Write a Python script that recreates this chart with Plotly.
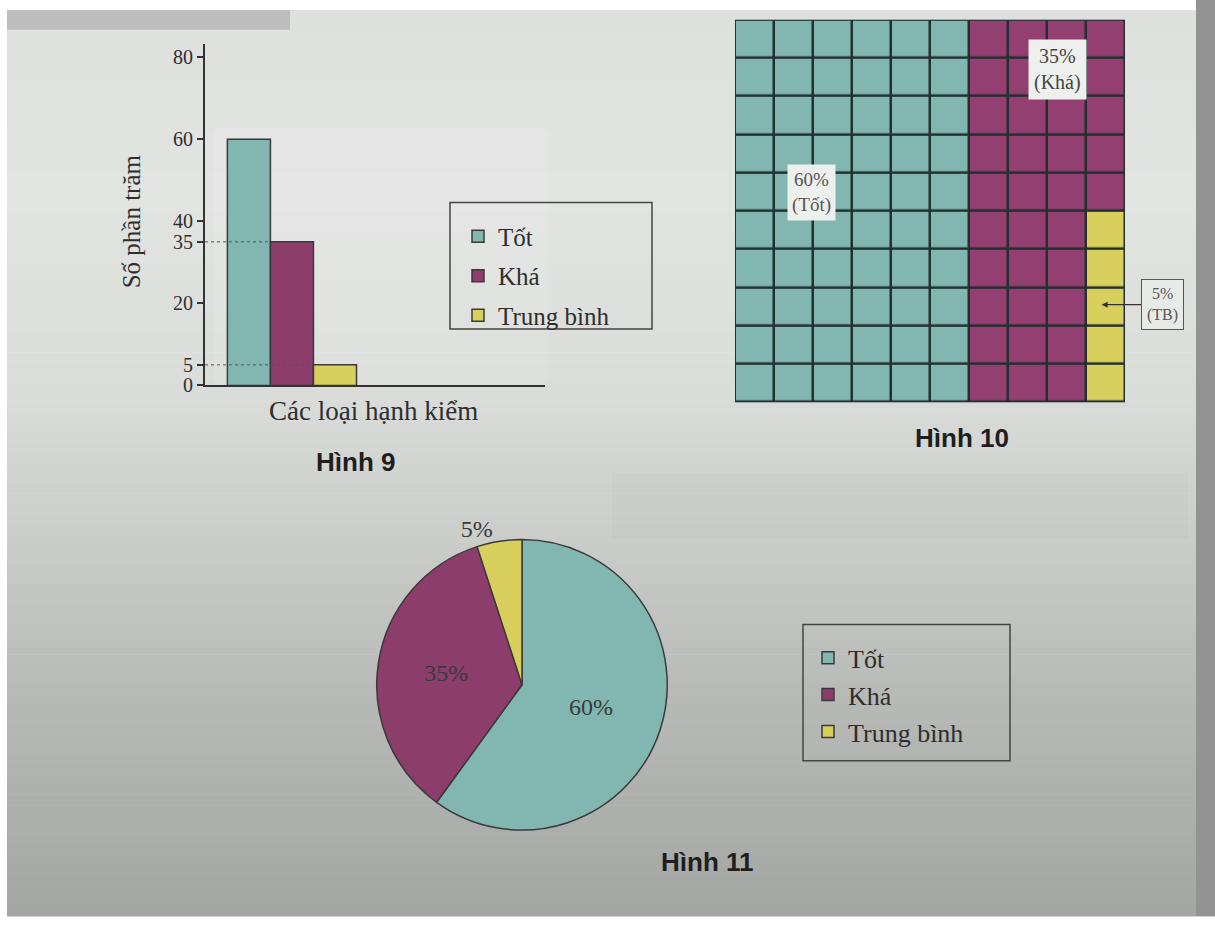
import numpy as np
import plotly.graph_objects as go

# ---------------- data ----------------
categories = ["Tốt", "Khá", "Trung bình"]
short_labels = ["Tốt", "Khá", "TB"]
percentages = [60, 35, 5]
y_ticks = [0, 5, 20, 35, 40, 60, 80]
colors = ["#82b6b0", "#8c3d6c", "#d8cf5c"]

W, H = 1215, 927
def px(x):
    return x / W
def py(y):
    return 1 - y / H

SERIF = "Liberation Serif, Times New Roman, serif"
SANS = "Liberation Sans, Arial, sans-serif"
INK = "#2e2e2e"

fig = go.Figure()

# ---------------- Hình 9: bar chart ----------------
for cat, val, col in zip(categories, percentages, colors):
    fig.add_trace(go.Bar(
        x=[cat], y=[val], name=cat, width=1,
        marker=dict(color=col, line=dict(color="#3a3a3a", width=1.5)),
        xaxis="x", yaxis="y", legend="legend", legendgroup=cat, hoverinfo="skip",
    ))

# ---------------- Hình 10: waffle (10x10) ----------------
n = 10
counts = [round(p) for p in percentages]
flat = np.concatenate([np.full(c, i) for i, c in enumerate(counts)])
grid = flat.reshape(n, n, order="F")  # fill column by column, top to bottom
fig.add_trace(go.Heatmap(
    z=grid, x=list(range(n)), y=list(range(n)),
    colorscale=[[0, colors[0]], [0.5, "#933f72"], [1, colors[2]]],
    zmin=0, zmax=2, showscale=False, xgap=2.5, ygap=2.5,
    xaxis="x2", yaxis="y2", hoverinfo="skip",
))

# ---------------- Hình 11: pie ----------------
fig.add_trace(go.Pie(
    labels=categories, values=percentages, sort=False,
    direction="clockwise", rotation=0,
    marker=dict(colors=colors, line=dict(color="#3a3a3a", width=1.5)),
    texttemplate="%{value}%", textposition=["inside", "inside", "outside"],
    insidetextorientation="horizontal",
    textfont=dict(family=SERIF, size=24, color="#3a3a3a"),
    domain=dict(x=[px(375), px(669)], y=[py(840), py(546)]),
    legend="legend2", hoverinfo="skip",
))

shapes = []
annotations = []

# ---- page tones (photo background) ----
keys_y = [10, 200, 400, 550, 700, 927]
keys_g = [222, 226, 218, 202, 184, 164]
nb = 90
edges = np.linspace(10, 927, nb + 1)
for a, b in zip(edges[:-1], edges[1:]):
    g = int(round(np.interp((a + b) / 2, keys_y, keys_g)))
    shapes.append(dict(type="rect", xref="paper", yref="paper", x0=px(7), x1=1, y0=py(b + 0.6), y1=py(a),
                       fillcolor=f"rgb({g},{g + 2},{g})", line=dict(width=0), layer="below"))
shapes.append(dict(type="rect", xref="paper", yref="paper", x0=px(1196), x1=1, y0=0, y1=1,
                   fillcolor="#939393", line=dict(width=0), layer="below"))
shapes.append(dict(type="rect", xref="paper", yref="paper", x0=px(7), x1=px(290), y0=py(30), y1=py(10),
                   fillcolor="rgba(110,110,110,0.30)", line=dict(width=0), layer="below"))
shapes.append(dict(type="rect", xref="paper", yref="paper", x0=px(612), x1=px(1188), y0=py(545), y1=py(478),
                   fillcolor="rgba(120,120,120,0.035)", line=dict(width=0), layer="below"))
shapes.append(dict(type="rect", xref="paper", yref="paper", x0=px(214), x1=px(548), y0=py(388), y1=py(130),
                   fillcolor="rgba(255,255,255,0.10)", line=dict(width=0), layer="below"))

# dashed reference lines in the bar chart
x_left = -1.02
for i, v in enumerate(percentages):
    if i == 0:
        continue
    shapes.append(dict(type="line", xref="x", yref="y", x0=x_left, x1=i - 0.5, y0=v, y1=v,
                       line=dict(color="#555", width=1, dash="dot")))

# legend box for bar chart
shapes.append(dict(type="rect", xref="paper", yref="paper", x0=px(450), x1=px(652), y0=py(333), y1=py(205),
                   line=dict(color="#444", width=1.5), fillcolor="rgba(0,0,0,0)"))
# legend box for pie
shapes.append(dict(type="rect", xref="paper", yref="paper", x0=px(803), x1=px(1010), y0=py(770), y1=py(632),
                   line=dict(color="#444", width=1.5), fillcolor="rgba(0,0,0,0)"))

# waffle dark background (grid lines)
shapes.append(dict(type="rect", xref="x2", yref="y2", x0=-0.5, x1=n - 0.5, y0=-0.5, y1=n - 0.5,
                   fillcolor="#223030", line=dict(color="#223030", width=2), layer="below"))

# waffle labels
annotations.append(dict(xref="x2", yref="y2", x=1.47, y=4.02,
                        text=f"{percentages[0]}%<br>({short_labels[0]})", showarrow=False,
                        bgcolor="#eef0ee", font=dict(family=SERIF, size=19, color="#555"), borderpad=4))
annotations.append(dict(xref="x2", yref="y2", x=7.78, y=0.79,
                        text=f"{percentages[1]}%<br>({short_labels[1]})", showarrow=False,
                        bgcolor="#eef0ee", font=dict(family=SERIF, size=20, color="#444"), borderpad=5))
annotations.append(dict(xref="x2", yref="y2", x=8.9, y=6.95, axref="x2", ayref="y2", ax=10.45, ay=6.95,
                        text=f"{percentages[2]}%<br>({short_labels[2]})", showarrow=True,
                        arrowhead=2, arrowsize=1, arrowwidth=1.2, arrowcolor="#333",
                        bgcolor="#e8eae8", bordercolor="#555", borderwidth=1,
                        font=dict(family=SERIF, size=16, color="#555"), borderpad=5))

# captions
for text, x, y in [("Hình 9", 355, 468), ("Hình 10", 962, 443), ("Hình 11", 707, 872)]:
    annotations.append(dict(xref="paper", yref="paper", x=px(x), y=py(y), xanchor="center", yanchor="middle",
                            text=f"<b>{text}</b>", showarrow=False,
                            font=dict(family=SANS, size=26, color="#1e1e1e")))

# axis titles for the bar chart
annotations.append(dict(xref="paper", yref="paper", x=px(374), y=py(416), xanchor="center", yanchor="middle",
                        text="Các loại hạnh kiểm", showarrow=False,
                        font=dict(family=SERIF, size=27, color=INK)))
annotations.append(dict(xref="paper", yref="paper", x=px(131), y=py(224), xanchor="center", yanchor="middle",
                        text="Số phần trăm", textangle=-90, showarrow=False,
                        font=dict(family=SERIF, size=25, color=INK)))

y0_px, y80_px, ytop_px = 390, 58, 45
y_max = 80 * (y0_px - ytop_px) / (y0_px - y80_px)

fig.update_layout(
    width=W, height=H, autosize=False, margin=dict(l=0, r=0, t=0, b=0),
    paper_bgcolor="#ffffff", plot_bgcolor="rgba(0,0,0,0)",
    barmode="overlay", showlegend=True,
    xaxis=dict(domain=[px(205), px(545)], range=[x_left, 6.88], type="category",
               categoryorder="array", categoryarray=categories,
               showticklabels=False, ticks="", showgrid=False, zeroline=False,
               showline=True, linecolor="#333", linewidth=2, anchor="y", fixedrange=True),
    yaxis=dict(domain=[py(y0_px), py(ytop_px)], range=[0, y_max], tickvals=y_ticks,
               ticks="outside", ticklen=6, tickwidth=1.5, tickcolor="#333",
               tickfont=dict(family=SERIF, size=20, color=INK),
               showgrid=False, zeroline=False, showline=True, linecolor="#333", linewidth=2,
               anchor="x", fixedrange=True),
    xaxis2=dict(domain=[px(735), px(1125)], range=[-0.5, n - 0.5], visible=False, anchor="y2"),
    yaxis2=dict(domain=[py(407), py(20)], range=[n - 0.5, -0.5], visible=False, anchor="x2"),
    legend=dict(x=px(458), y=py(216), xanchor="left", yanchor="top", bgcolor="rgba(0,0,0,0)",
                font=dict(family=SERIF, size=25, color=INK), borderwidth=0, tracegroupgap=4),
    legend2=dict(x=px(808), y=py(642), xanchor="left", yanchor="top", bgcolor="rgba(0,0,0,0)",
                 font=dict(family=SERIF, size=26, color=INK), borderwidth=0),
    shapes=shapes, annotations=annotations,
)

page_css = ("margin:0;padding:0;overflow:hidden;width:1215px;height:927px;"
            "font-size:0;line-height:0;background:#a4a6a4;")
post = (
    f"document.documentElement.style.cssText='{page_css}';"
    f"document.body.style.cssText='{page_css}';"
    "var gd=document.getElementById('{plot_id}');"
    "gd.style.position='fixed';gd.style.left='0px';gd.style.top='0px';"
)
fig.write_html("out.html", config={"displayModeBar": False, "responsive": False},
               default_width="1215px", default_height="927px", post_script=post)
